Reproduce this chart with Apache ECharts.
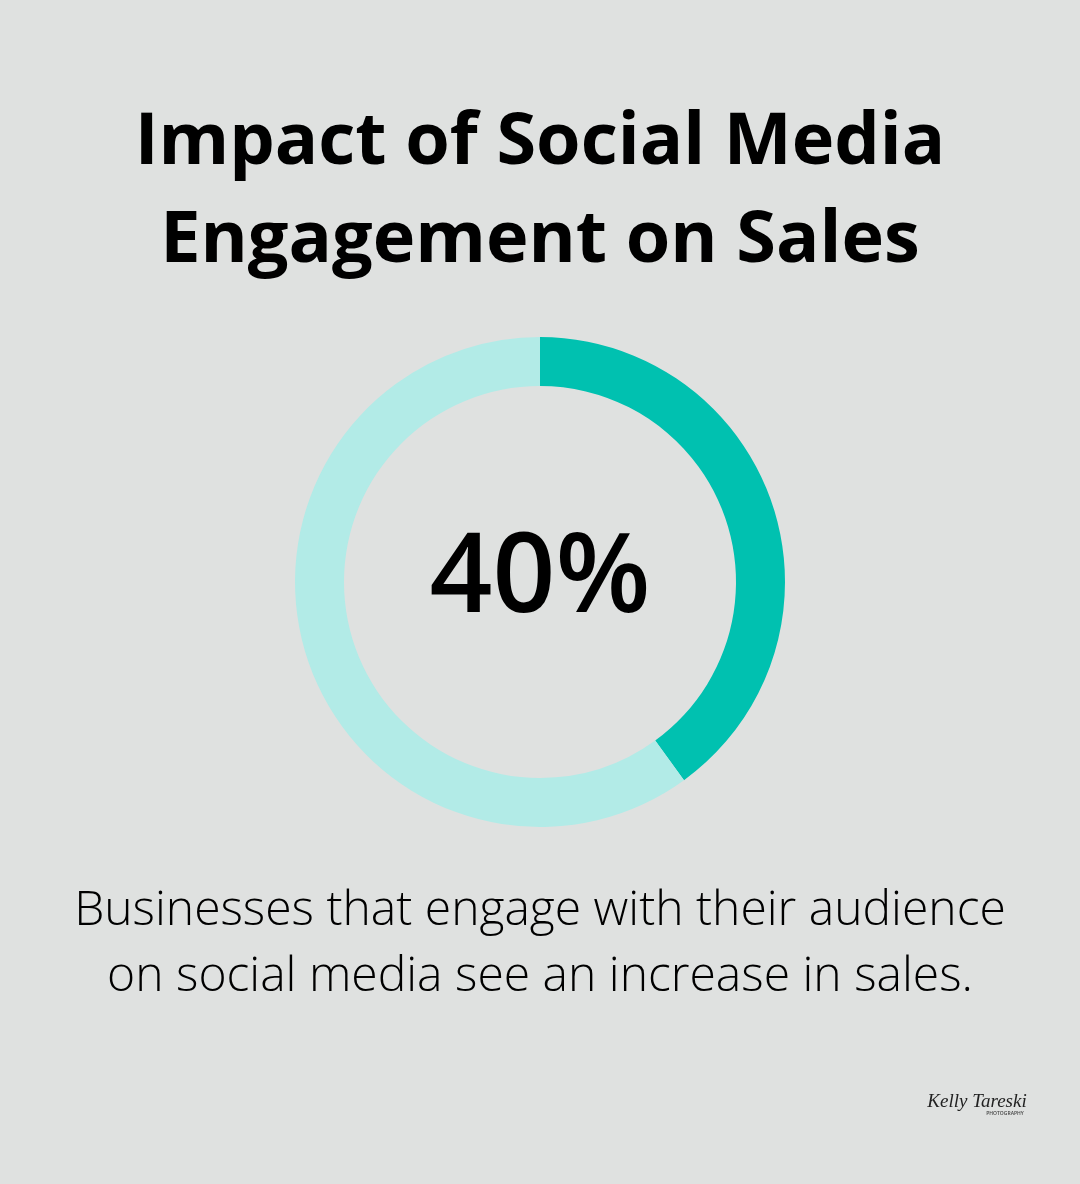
<!DOCTYPE html>
<html><head><meta charset="utf-8">
<style>html,body{margin:0;padding:0;background:#dfe1e0}#c{width:1080px;height:1184px}</style>
<script src="https://cdn.jsdelivr.net/npm/echarts@6/dist/echarts.min.js"></script>
</head><body><div id="c"></div>
<script>
const titleLines = ["Impact of Social Media", "Engagement on Sales"];
const values = [40, 60];
const centerLabel = "40%";
const captionLines = ["Businesses that engage with their audience", "on social media see an increase in sales."];
const sigMain = "Kelly Tareski";
const sigSub = "PHOTOGRAPHY";
const chart = echarts.init(document.getElementById('c'), null, {renderer:'canvas'});
const font = '"Open Sans"';
chart.setOption({
  backgroundColor:'#dfe1e0',
  animation:false,
  series:[{type:'pie', silent:true, radius:[196,245], center:[540,582], startAngle:90, clockwise:true,
    label:{show:false}, labelLine:{show:false},
    data:[{value:values[0], itemStyle:{color:'#00c1b0'}},{value:values[1], itemStyle:{color:'#b2ebe7'}}]}],
  graphic:[
    {type:'text', x:540, y:143, style:{text:titleLines[0], fontFamily:font, fontSize:72, fontWeight:700, fill:'#000', align:'center', verticalAlign:'middle'}},
    {type:'text', x:540, y:241, style:{text:titleLines[1], fontFamily:font, fontSize:72, fontWeight:700, fill:'#000', align:'center', verticalAlign:'middle'}},
    {type:'text', x:540, y:581, style:{text:centerLabel, fontFamily:font, fontSize:110, fontWeight:600, fill:'#000', align:'center', verticalAlign:'middle'}},
    {type:'text', x:540, y:911, style:{text:captionLines[0], fontFamily:font, fontSize:48, fontWeight:300, fill:'#000', align:'center', verticalAlign:'middle'}},
    {type:'text', x:540, y:977, style:{text:captionLines[1], fontFamily:font, fontSize:48, fontWeight:300, fill:'#000', align:'center', verticalAlign:'middle'}},
    {type:'text', x:977, y:1102, style:{text:sigMain, fontFamily:'"Liberation Serif"', fontStyle:'italic', fontSize:19, fill:'#222', align:'center', verticalAlign:'middle'}},
    {type:'text', x:1005, y:1114, style:{text:sigSub, fontFamily:font, fontSize:5, fontWeight:600, fill:'#444', align:'center', verticalAlign:'middle'}}
  ]
});
</script></body></html>
